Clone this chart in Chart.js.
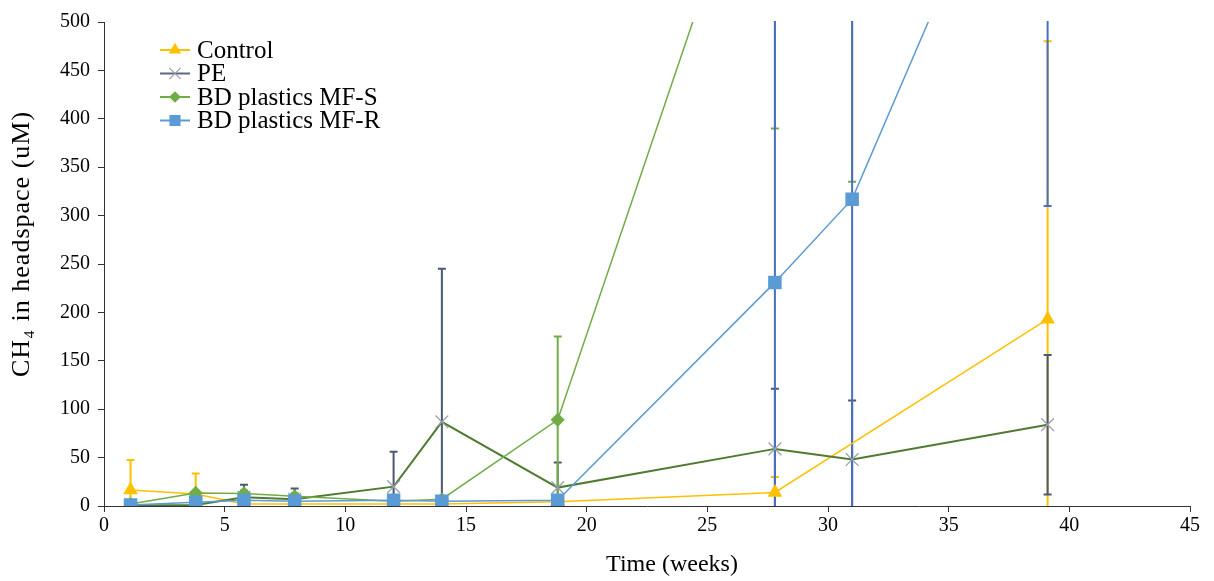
<!DOCTYPE html>
<html>
<head>
<meta charset="utf-8">
<script src="https://cdn.jsdelivr.net/npm/chart.js@4"></script>
<style>
  body { margin: 0; background: #fff; }
</style>
</head>
<body>
<canvas id="myChart" width="1214" height="581"></canvas>
<script>
// sampling times (weeks)
const weeks = [1.1, 3.8, 5.8, 7.9, 12, 14, 18.8, 27.8, 31, 39.1]

// CH4 in headspace (uM); values above 500 run off the top
const control    = [16.5, 12.5, 2, 2, 2, 2, 4.5, 14, null, 193]
const controlErr = [31, 21, 1, 1, 1, 1, 1, 16, null, 287]
const pe         = [0.5, 1, 9, 7, 20, 87, 19, 59, 48, 84]
const peErr      = [1, 1, 13, 11, 36, 158, 26, 62, 61, 72]
const mfs        = [2, 13.5, 13, 10, 5, 7, 89, 750, 800, 900]
const mfsErr     = [1, 2, 3, 3, 2, 2, 86, 360, 465, 300]
const mfr        = [1, 4, 6, 5, 6, 5, 6, 231, 317, 787]
const mfrErr     = [1, 1, 1, 1, 1, 1, 1, 300, 330, 477]

const xTicks = [0, 5, 10, 15, 20, 25, 30, 35, 40, 45]
const yTicks = [0, 50, 100, 150, 200, 250, 300, 350, 400, 450, 500]

const xTitle = 'Time (weeks)'
const yTitle = 'CH\u2084 in headspace (uM)'

const serif = "'Liberation Serif', 'Times New Roman', 'DejaVu Serif', serif"

function points(vals) {
    let out = []
    weeks.forEach((w, i) => { if (vals[i] !== null) out.push({x: w, y: vals[i]}) })
    return out
}

// error bars drawn under the markers
const errorBars = {
    id: 'errorBars',
    beforeDatasetsDraw(chart) {
        const ctx = chart.ctx
        const a = chart.chartArea
        const xs = chart.scales.x, ys = chart.scales.y
        ctx.save()
        ctx.beginPath()
        ctx.rect(a.left, a.top - 1, a.right - a.left, a.bottom - a.top + 1)
        ctx.clip()
        chart.data.datasets.forEach(ds => {
            ctx.strokeStyle = ds.errColor
            ctx.lineWidth = 2
            weeks.forEach((w, i) => {
                const v = ds.vals[i], e = ds.errs[i]
                if (v === null || e === null) return
                const px = xs.getPixelForValue(w)
                const top = ys.getPixelForValue(v + e)
                const bot = ys.getPixelForValue(v - e)
                ctx.beginPath()
                ctx.moveTo(px, top); ctx.lineTo(px, bot)
                ctx.moveTo(px - 4, top); ctx.lineTo(px + 4, top)
                ctx.moveTo(px - 4, bot); ctx.lineTo(px + 4, bot)
                ctx.stroke()
            })
        })
        ctx.restore()
    }
}

// legend inside the plot (top left) and the two axis titles
const extras = {
    id: 'extras',
    afterDraw(chart) {
        const ctx = chart.ctx
        ctx.save()
        let y = 50
        chart.data.datasets.forEach(ds => {
            ctx.strokeStyle = ds.legendLine
            ctx.lineWidth = 2
            ctx.beginPath()
            ctx.moveTo(160, y); ctx.lineTo(190, y)
            ctx.stroke()
            ctx.fillStyle = ds.pointBackgroundColor
            ctx.strokeStyle = ds.pointBorderColor
            ctx.lineWidth = 1.2
            Chart.helpers.drawPoint(ctx, {
                pointStyle: ds.pointStyle,
                radius: ds.legendRadius,
                borderWidth: 1.2,
                rotation: 0
            }, 175, y)
            ctx.fillStyle = '#000'
            ctx.font = '25px ' + serif
            ctx.textBaseline = 'middle'
            ctx.textAlign = 'left'
            ctx.fillText(ds.label, 197, y + 1)
            y += 23.5
        })

        ctx.fillStyle = '#000'
        ctx.font = '24px ' + serif
        ctx.textAlign = 'center'
        ctx.textBaseline = 'middle'
        ctx.fillText(xTitle, 672, 565)

        ctx.translate(22, 244)
        ctx.rotate(-Math.PI / 2)
        ctx.font = '26px ' + serif
        ctx.letterSpacing = '1px'
        ctx.fillText(yTitle, 0, 0)
        ctx.restore()
    }
}

const chart = new Chart('myChart', {
    type: 'line',
    data: {
        datasets: [
            {
                label: 'Control',
                data: points(control),
                vals: control, errs: controlErr,
                borderColor: '#FFC000',
                backgroundColor: '#FFC000',
                pointBackgroundColor: '#FFC000',
                pointBorderColor: '#FFC000',
                errColor: '#FFC000',
                legendLine: '#FFC000',
                pointStyle: 'triangle',
                pointRadius: 7,
                legendRadius: 6,
                borderWidth: 1.5,
                order: 4
            },
            {
                label: 'PE',
                data: points(pe),
                vals: pe, errs: peErr,
                borderColor: '#4F7B31',
                backgroundColor: '#9AA0AA',
                pointBackgroundColor: '#9AA0AA',
                pointBorderColor: '#9AA0AA',
                errColor: '#4A5872',
                legendLine: '#5A6882',
                pointStyle: 'crossRot',
                pointRadius: 9,
                pointBorderWidth: 1.3,
                legendRadius: 8,
                borderWidth: 2,
                order: 3
            },
            {
                label: 'BD plastics MF-S',
                data: points(mfs),
                vals: mfs, errs: mfsErr,
                borderColor: '#70AD47',
                backgroundColor: '#70AD47',
                pointBackgroundColor: '#70AD47',
                pointBorderColor: '#70AD47',
                errColor: '#70AD47',
                legendLine: '#70AD47',
                pointStyle: 'rectRot',
                pointRadius: 6,
                legendRadius: 5,
                borderWidth: 1.5,
                order: 2
            },
            {
                label: 'BD plastics MF-R',
                data: points(mfr),
                vals: mfr, errs: mfrErr,
                borderColor: '#5B9BD5',
                backgroundColor: '#5B9BD5',
                pointBackgroundColor: '#5B9BD5',
                pointBorderColor: '#5B9BD5',
                errColor: '#4A6FC0',
                legendLine: '#5B9BD5',
                pointStyle: 'rect',
                pointRadius: 8.5,
                legendRadius: 7,
                borderWidth: 1.5,
                order: 1
            }
        ]
    },
    options: {
        responsive: false,
        animation: false,
        layout: { padding: { top: 22, right: 24, left: 0, bottom: 0 } },
        plugins: {
            legend: { display: false },
            tooltip: { enabled: false }
        },
        scales: {
            x: {
                type: 'linear',
                min: 0, max: 45,
                afterBuildTicks: s => { s.ticks = xTicks.map(v => ({value: v})) },
                afterFit: s => { s.height = 75 },
                ticks: { color: '#000', font: { family: serif, size: 20 }, padding: 2, maxRotation: 0 },
                grid: { display: true, drawOnChartArea: false, drawTicks: true, tickLength: 6, color: '#333' },
                border: { display: true, color: '#333', width: 1 }
            },
            y: {
                min: 0, max: 500,
                afterBuildTicks: s => { s.ticks = yTicks.map(v => ({value: v})) },
                afterFit: s => { s.width = 104 },
                ticks: { color: '#000', font: { family: serif, size: 20 }, padding: 8 },
                grid: { display: true, drawOnChartArea: false, drawTicks: true, tickLength: 6, color: '#333' },
                border: { display: true, color: '#333', width: 1 }
            }
        }
    },
    plugins: [errorBars, extras]
})
</script>
</body>
</html>
